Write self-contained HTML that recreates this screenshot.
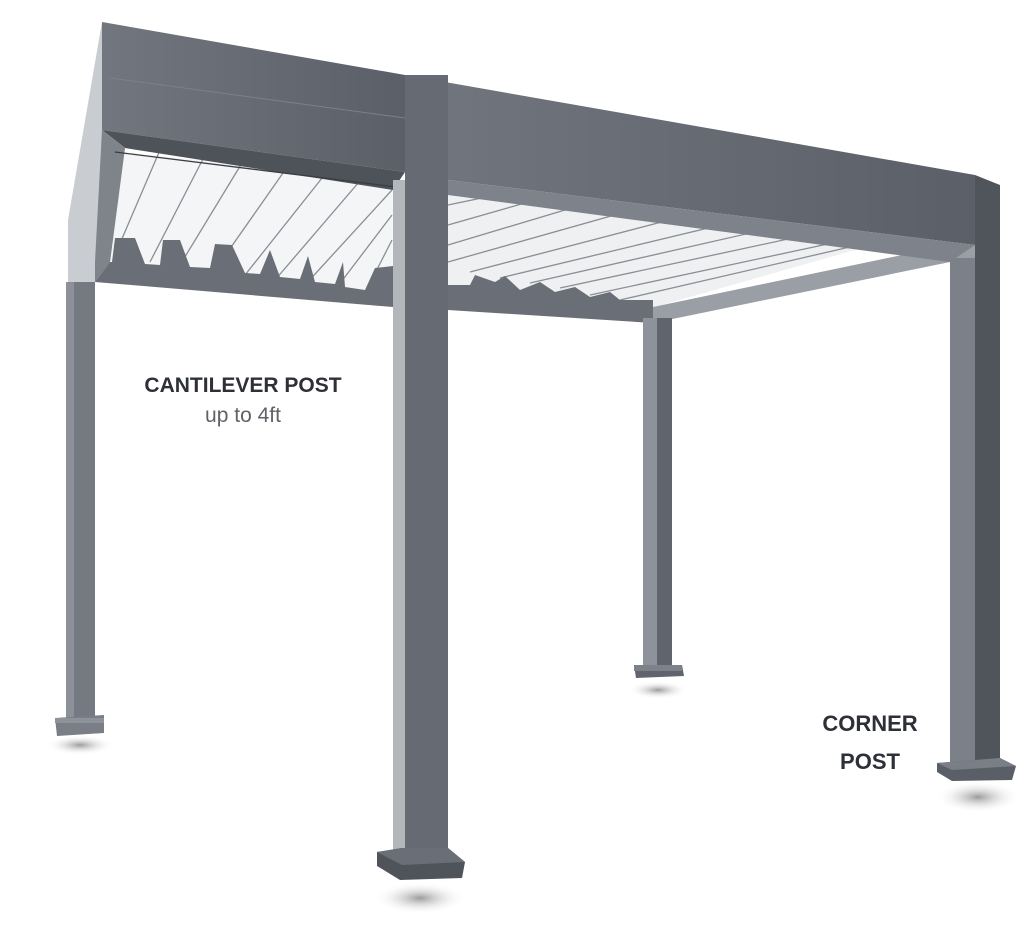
<!DOCTYPE html>
<html><head><meta charset="utf-8"><style>
html,body{margin:0;padding:0;background:#fff;}
svg{display:block;}
</style></head><body>
<svg width="1024" height="942" viewBox="0 0 1024 942" xmlns="http://www.w3.org/2000/svg">
<defs>
<radialGradient id="sh" cx="0.5" cy="0.5" r="0.5">
<stop offset="0" stop-color="#8a8a8a" stop-opacity="0.85"/>
<stop offset="1" stop-color="#fff" stop-opacity="0"/>
</radialGradient>
<linearGradient id="beam" x1="0" y1="0" x2="1" y2="0">
<stop offset="0" stop-color="#72767e"/><stop offset="1" stop-color="#5b5f67"/>
</linearGradient>
</defs>
<!-- shadows -->
<ellipse cx="80" cy="745" rx="34" ry="10" fill="url(#sh)"/>
<ellipse cx="420" cy="898" rx="46" ry="16" fill="url(#sh)"/>
<ellipse cx="658" cy="690" rx="30" ry="9" fill="url(#sh)"/>
<ellipse cx="978" cy="797" rx="42" ry="16" fill="url(#sh)"/>

<!-- louvre white area left -->
<polygon points="100,150 395,180 395,300 100,270" fill="#f4f5f6"/>
<!-- louvre white area right -->
<polygon points="448,185 890,240 655,307 448,292" fill="#eff0f1"/>
<g stroke="#8a8e95" stroke-width="1.3">
<line x1="160" y1="150" x2="115" y2="255"/><line x1="205" y1="155" x2="150" y2="262"/>
<line x1="245" y1="158" x2="180" y2="265"/><line x1="290" y1="163" x2="215" y2="270"/>
<line x1="330" y1="168" x2="245" y2="275"/><line x1="365" y1="175" x2="275" y2="280"/>
<line x1="392" y1="190" x2="305" y2="285"/><line x1="392" y1="215" x2="335" y2="290"/>
<line x1="392" y1="240" x2="365" y2="293"/>
<line x1="448" y1="205" x2="520" y2="190"/><line x1="448" y1="225" x2="560" y2="193"/>
<line x1="448" y1="245" x2="605" y2="198"/><line x1="448" y1="262" x2="650" y2="205"/>
<line x1="470" y1="272" x2="700" y2="212"/><line x1="500" y1="278" x2="750" y2="218"/>
<line x1="530" y1="283" x2="790" y2="224"/><line x1="560" y1="288" x2="830" y2="230"/>
<line x1="590" y1="295" x2="865" y2="236"/><line x1="620" y1="300" x2="880" y2="240"/>
</g>
<!-- serrated bottom left beam -->
<polygon points="95,262 112,262 115,238 135,238 145,264 160,265 163,240 180,240 190,267 210,268 215,244 232,245 245,273 260,274 270,250 280,277 300,279 308,256 315,282 335,284 343,262 345,287 365,290 375,268 393,266 393,307 95,282" fill="#6a6e76"/>
<!-- serrated bottom right -->
<polygon points="448,285 470,285 475,275 495,282 505,276 520,290 540,282 555,292 575,287 590,297 610,292 620,300 653,300 653,323 448,310" fill="#6a6e76"/>
<!-- right underside beam -->
<polygon points="653,307 950,245 975,245 975,260 950,262 653,323" fill="#9a9ea5"/>
<!-- back post -->
<rect x="643" y="318" width="14" height="350" fill="#8e929a"/>
<rect x="657" y="318" width="15" height="350" fill="#60646c"/>
<polygon points="634,665 682,665 684,676 636,678" fill="#60646c"/>
<rect x="634" y="665" width="48" height="6" fill="#7d8189"/>

<!-- left beam front face -->
<polygon points="102,22 405,75 405,172 102,130" fill="url(#beam)"/>
<line x1="110" y1="78" x2="405" y2="118" stroke="#7c8088" stroke-width="1"/>
<polygon points="102,130 405,172 393,190 125,148" fill="#4e5259"/>
<polygon points="102,22 102,130 125,148 110,262 95,282 68,282 68,220" fill="#c9ccd0"/>
<polygon points="102,130 125,148 110,262 95,282 95,262" fill="#7f838a"/>
<line x1="115" y1="152" x2="404" y2="188" stroke="#3a3d42" stroke-width="1.3"/>
<!-- left post -->
<rect x="66" y="282" width="8" height="437" fill="#8c9098"/>
<rect x="74" y="282" width="21" height="437" fill="#757981"/>
<polygon points="55,718 104,715 104,733 57,736" fill="#7a7e86"/>
<rect x="55" y="718" width="49" height="5" fill="#8e929a"/>

<!-- front big beam -->
<polygon points="405,75 975,175 975,245 448,180 405,180" fill="url(#beam)"/>
<polygon points="448,180 975,245 950,262 448,195" fill="#7e828a"/>
<!-- corner post -->
<rect x="950" y="258" width="25" height="505" fill="#7c8088"/>
<polygon points="975,175 1000,185 1000,765 975,765" fill="#50545b"/>
<polygon points="937,763 1000,758 1016,766 1012,780 952,781 937,772" fill="#5a5e66"/>
<polygon points="937,763 1000,758 1016,766 952,770" fill="#7a7e86"/>

<!-- front middle post -->
<rect x="393" y="180" width="12" height="672" fill="#b3b7bc"/>
<rect x="405" y="75" width="43" height="777" fill="#666a72"/>
<polygon points="377,852 402,848 448,848 465,862 462,878 400,880 377,866" fill="#4f535a"/>
<polygon points="377,852 402,848 448,848 465,862 402,865" fill="#6a6e76"/>

<!-- labels -->
<text x="243" y="392" text-anchor="middle" font-family="Liberation Sans, sans-serif" font-size="21" font-weight="bold" fill="#2e3038">CANTILEVER POST</text>
<text x="243" y="422" text-anchor="middle" font-family="Liberation Sans, sans-serif" font-size="21" fill="#606268">up to 4ft</text>
<text x="870" y="731" text-anchor="middle" font-family="Liberation Sans, sans-serif" font-size="22" font-weight="bold" fill="#2e3038">CORNER</text>
<text x="870" y="769" text-anchor="middle" font-family="Liberation Sans, sans-serif" font-size="22" font-weight="bold" fill="#2e3038">POST</text>
</svg>
</body></html>
